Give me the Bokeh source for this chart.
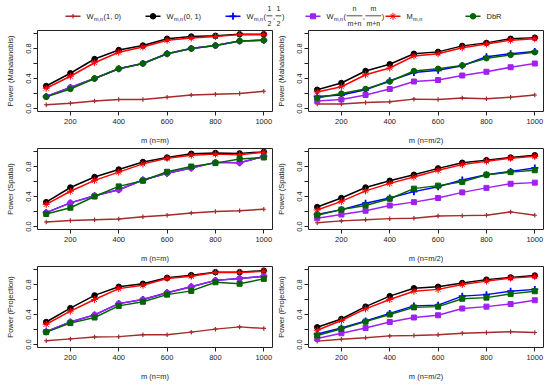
import math
from bokeh.plotting import figure
from bokeh.layouts import column, row
from bokeh.models import Range1d, FixedTicker
from bokeh.core.properties import value
from bokeh.embed import file_html
from bokeh.resources import INLINE

# ---------------- data ----------------
m_vals = [100, 200, 300, 400, 500, 600, 700, 800, 900, 1000]
x_ticks = [200, 400, 600, 800, 1000]
y_ticks = [0.0, 0.4, 0.8]
y_tick_labels = ["0.0", "0.4", "0.8"]
y_minor = [0.2, 0.6, 1.0]

row_labels = ["Power (Mahalanobis)", "Power (Spatial)", "Power (Projection)"]
col_labels = ["m (n=m)", "m (n=m/2)"]

# Mahalanobis, n=m
mah_eq_w10 = [0.05, 0.07, 0.10, 0.12, 0.12, 0.15, 0.18, 0.19, 0.20, 0.23]
mah_eq_w01 = [0.30, 0.47, 0.66, 0.78, 0.84, 0.93, 0.96, 0.97, 0.99, 0.99]
mah_eq_whalf = [0.16, 0.28, 0.40, 0.53, 0.60, 0.73, 0.80, 0.84, 0.90, 0.91]
mah_eq_wprop = [0.16, 0.28, 0.40, 0.53, 0.60, 0.73, 0.80, 0.84, 0.90, 0.91]
mah_eq_M = [0.27, 0.43, 0.61, 0.75, 0.82, 0.91, 0.94, 0.96, 0.985, 0.985]
mah_eq_dbr = [0.155, 0.26, 0.40, 0.53, 0.60, 0.73, 0.80, 0.84, 0.90, 0.91]

# Mahalanobis, n=m/2
mah_half_w10 = [0.06, 0.06, 0.08, 0.09, 0.125, 0.12, 0.14, 0.13, 0.15, 0.18]
mah_half_w01 = [0.25, 0.34, 0.50, 0.59, 0.73, 0.755, 0.835, 0.875, 0.93, 0.945]
mah_half_whalf = [0.16, 0.18, 0.25, 0.37, 0.48, 0.51, 0.57, 0.69, 0.73, 0.76]
mah_half_wprop = [0.10, 0.12, 0.18, 0.26, 0.36, 0.38, 0.44, 0.49, 0.55, 0.60]
mah_half_M = [0.22, 0.29, 0.45, 0.54, 0.70, 0.73, 0.81, 0.86, 0.91, 0.93]
mah_half_dbr = [0.14, 0.20, 0.26, 0.36, 0.50, 0.53, 0.575, 0.67, 0.715, 0.75]

# Spatial, n=m
spa_eq_w10 = [0.06, 0.08, 0.09, 0.10, 0.13, 0.15, 0.18, 0.20, 0.21, 0.23]
spa_eq_w01 = [0.325, 0.52, 0.66, 0.76, 0.86, 0.92, 0.97, 0.98, 0.975, 0.995]
spa_eq_whalf = [0.185, 0.315, 0.41, 0.49, 0.62, 0.71, 0.78, 0.855, 0.85, 0.935]
spa_eq_wprop = [0.185, 0.315, 0.41, 0.49, 0.62, 0.71, 0.78, 0.855, 0.85, 0.935]
spa_eq_M = [0.295, 0.47, 0.615, 0.725, 0.835, 0.91, 0.95, 0.965, 0.955, 0.99]
spa_eq_dbr = [0.167, 0.25, 0.40, 0.535, 0.61, 0.73, 0.80, 0.845, 0.90, 0.92]

# Spatial, n=m/2
spa_half_w10 = [0.05, 0.075, 0.09, 0.105, 0.11, 0.14, 0.145, 0.15, 0.195, 0.15]
spa_half_w01 = [0.26, 0.38, 0.52, 0.61, 0.69, 0.775, 0.85, 0.885, 0.92, 0.95]
spa_half_whalf = [0.16, 0.225, 0.31, 0.38, 0.465, 0.53, 0.62, 0.69, 0.735, 0.78]
spa_half_wprop = [0.11, 0.16, 0.21, 0.28, 0.325, 0.38, 0.455, 0.515, 0.57, 0.585]
spa_half_M = [0.22, 0.335, 0.475, 0.575, 0.66, 0.75, 0.825, 0.87, 0.91, 0.935]
spa_half_dbr = [0.15, 0.225, 0.28, 0.37, 0.505, 0.545, 0.595, 0.69, 0.725, 0.75]

# Projection, n=m
pro_eq_w10 = [0.05, 0.075, 0.10, 0.105, 0.13, 0.13, 0.165, 0.205, 0.235, 0.215]
pro_eq_w01 = [0.30, 0.485, 0.655, 0.77, 0.81, 0.89, 0.925, 0.965, 0.965, 0.985]
pro_eq_whalf = [0.17, 0.30, 0.395, 0.545, 0.60, 0.69, 0.77, 0.855, 0.88, 0.91]
pro_eq_wprop = [0.17, 0.30, 0.395, 0.545, 0.60, 0.69, 0.77, 0.855, 0.88, 0.91]
pro_eq_M = [0.27, 0.445, 0.60, 0.745, 0.79, 0.88, 0.91, 0.96, 0.96, 0.975]
pro_eq_dbr = [0.165, 0.285, 0.36, 0.515, 0.57, 0.665, 0.715, 0.83, 0.81, 0.875]

# Projection, n=m/2
pro_half_w10 = [0.045, 0.07, 0.09, 0.115, 0.12, 0.13, 0.15, 0.16, 0.17, 0.16]
pro_half_w01 = [0.23, 0.34, 0.505, 0.645, 0.75, 0.77, 0.82, 0.865, 0.895, 0.92]
pro_half_whalf = [0.14, 0.22, 0.315, 0.415, 0.515, 0.525, 0.645, 0.665, 0.71, 0.735]
pro_half_wprop = [0.08, 0.15, 0.22, 0.30, 0.36, 0.39, 0.48, 0.505, 0.54, 0.59]
pro_half_M = [0.19, 0.32, 0.475, 0.60, 0.71, 0.735, 0.80, 0.845, 0.885, 0.905]
pro_half_dbr = [0.12, 0.21, 0.305, 0.40, 0.495, 0.505, 0.61, 0.625, 0.675, 0.71]

panels = [
    [mah_eq_w10, mah_eq_w01, mah_eq_whalf, mah_eq_wprop, mah_eq_M, mah_eq_dbr],
    [mah_half_w10, mah_half_w01, mah_half_whalf, mah_half_wprop, mah_half_M, mah_half_dbr],
    [spa_eq_w10, spa_eq_w01, spa_eq_whalf, spa_eq_wprop, spa_eq_M, spa_eq_dbr],
    [spa_half_w10, spa_half_w01, spa_half_whalf, spa_half_wprop, spa_half_M, spa_half_dbr],
    [pro_eq_w10, pro_eq_w01, pro_eq_whalf, pro_eq_wprop, pro_eq_M, pro_eq_dbr],
    [pro_half_w10, pro_half_w01, pro_half_whalf, pro_half_wprop, pro_half_M, pro_half_dbr],
]

# ---------------- styles ----------------
FONT = "Liberation Sans"
TXT = "#222222"
COLORS = ["#A52A2A", "#000000", "#0000FF", "#A020F0", "#FF0000", "#006400"]
LW = 1.5


def marker_style(k, row_i, left):
    if k == 0:
        return dict(marker="cross", size=4.5, line_width=1.2)
    if k == 1:
        return dict(marker="circle", size=5.5, line_width=1)
    if k == 2:
        return dict(marker="cross", size=7, line_width=1.8)
    if k == 3:
        return dict(marker="circle" if left else "square", size=5.5 if left else 5, line_width=1)
    if k == 4:
        return dict(marker="asterisk", size=7, line_width=1)
    return dict(marker="circle" if row_i == 0 else "square", size=5.5 if row_i == 0 else 5, line_width=1)


def make_panel(idx):
    row_i, col_i = divmod(idx, 2)
    left = col_i == 0
    heights = [118, 118, 120]
    bottoms = [36, 36, 38]
    p = figure(
        width=273 if left else 277,
        height=heights[row_i],
        x_range=Range1d(64, 1036), y_range=Range1d(-0.04, 1.04),
        output_backend="svg", toolbar_location=None,
        min_border_left=37 if left else 35, min_border_right=1 if left else 7,
        min_border_top=1, min_border_bottom=bottoms[row_i],
    )
    p.grid.visible = False
    p.outline_line_color = TXT
    p.outline_line_width = 1
    p.background_fill_color = "white"
    p.border_fill_color = "white"

    for ax in (p.xaxis[0], p.yaxis[0]):
        ax.axis_line_color = None
        ax.major_tick_in = 0
        ax.major_tick_out = 4
        ax.minor_tick_in = 0
        ax.minor_tick_out = 4
        ax.major_tick_line_color = TXT
        ax.minor_tick_line_color = TXT
        ax.major_label_text_font = FONT
        ax.major_label_text_font_size = "7.5px"
        ax.major_label_text_color = TXT
        ax.axis_label_text_font = FONT
        ax.axis_label_text_font_size = "7.5px"
        ax.axis_label_text_font_style = "normal"
        ax.axis_label_text_color = TXT
        ax.major_label_standoff = 3

    p.xaxis.ticker = FixedTicker(ticks=x_ticks, minor_ticks=[])
    p.xaxis.axis_label = col_labels[col_i]
    p.xaxis.axis_label_standoff = 9

    p.yaxis.ticker = FixedTicker(ticks=y_ticks, minor_ticks=y_minor)
    p.yaxis.major_label_overrides = {t: lab for t, lab in zip(y_ticks, y_tick_labels)}
    p.yaxis.major_label_orientation = "vertical"
    p.yaxis.axis_label = row_labels[row_i]
    p.yaxis.axis_label_standoff = 8

    for k, ys in enumerate(panels[idx]):
        c = COLORS[k]
        p.line(m_vals, ys, line_color=c, line_width=LW)
        st = marker_style(k, row_i, left)
        p.scatter(m_vals, ys, marker=st["marker"], size=st["size"],
                  line_color=c, fill_color=c, line_width=st["line_width"])
    return p


# ---------------- legend strip ----------------
HW = {'W': 944, 'm': 833, 'n': 556, ',': 278, '(': 333, ')': 333, '0': 556,
      '1': 556, '2': 556, ' ': 278, '+': 584, 'M': 833, 'D': 722, 'b': 556, 'R': 722}


def tw(s, fs):
    return sum(HW.get(ch, 556) for ch in s) / 1000.0 * fs


LEG_W, LEG_H = 550, 29
leg = figure(width=LEG_W, height=LEG_H, x_range=Range1d(0, LEG_W), y_range=Range1d(0, LEG_H),
             output_backend="svg", toolbar_location=None, min_border=0,
             x_axis_location=None, y_axis_location=None)
leg.grid.visible = False
leg.outline_line_color = None
leg.background_fill_color = "white"

legend_tokens = [
    [("t", "W"), ("s", "m,n"), ("t", "(1, 0)")],
    [("t", "W"), ("s", "m,n"), ("t", "(0, 1)")],
    [("t", "W"), ("s", "m,n"), ("t", "("), ("f", "1", "2"), ("t", ","), ("f", "1", "2"), ("t", ")")],
    [("t", "W"), ("s", "m,n"), ("t", "("), ("f", "n", "m+n"), ("t", ","), ("f", "m", "m+n"), ("t", ")")],
    [("t", "M"), ("s", "m,n")],
    [("t", "DbR")],
]
legend_markers = [("cross", 4.5, 1.2), ("circle", 5.5, 1), ("cross", 7, 1.8),
                  ("square", 5, 1), ("asterisk", 7, 1), ("circle", 5.5, 1)]

FS, FS_SUB, FS_FRAC = 7.5, 5.5, 7.0
yc = 13.2
tx, ty, tt = [], [], []
sx, sy, st_ = [], [], []
fx, fy, ftxt = [], [], []
bx0, bx1, by = [], [], []

for k, toks in enumerate(legend_tokens):
    x0 = 65 + 80 * k
    c = COLORS[k]
    leg.segment(x0=[x0], y0=[yc], x1=[x0 + 15], y1=[yc], line_color=c, line_width=LW)
    mk, sz, lw = legend_markers[k]
    leg.scatter([x0 + 7.5], [yc], marker=mk, size=sz, line_color=c, fill_color=c, line_width=lw)
    x = 86 + 80 * k
    for tok in toks:
        if tok[0] == "t":
            tx.append(x); ty.append(yc); tt.append(tok[1])
            x += tw(tok[1], FS)
        elif tok[0] == "s":
            sx.append(x + 0.3); sy.append(yc - 2.4); st_.append(tok[1])
            x += tw(tok[1], FS_SUB) + 0.8
        else:
            wnum, wden = tw(tok[1], FS_FRAC), tw(tok[2], FS_FRAC)
            wmax = max(wnum, wden) + 2
            cx = x + wmax / 2 + 0.5
            fx += [cx, cx]; fy += [21.5, 6.4]; ftxt += [tok[1], tok[2]]
            bx0.append(x + 0.5); bx1.append(x + 0.5 + wmax); by.append(yc + 0.5)
            x += wmax + 1

leg.text(x=tx, y=ty, text=tt, text_font=value(FONT), text_font_size="7.5px",
         text_baseline="middle", text_align="left", text_color=TXT)
leg.text(x=sx, y=sy, text=st_, text_font=value(FONT), text_font_size="5.5px",
         text_baseline="middle", text_align="left", text_color=TXT)
leg.text(x=fx, y=fy, text=ftxt, text_font=value(FONT), text_font_size="7px",
         text_baseline="middle", text_align="center", text_color=TXT)
leg.segment(x0=bx0, y0=by, x1=bx1, y1=by, line_color=TXT, line_width=0.8)

figs = [make_panel(i) for i in range(6)]
layout = column(leg, row(figs[0], figs[1]), row(figs[2], figs[3]), row(figs[4], figs[5]))

open("out.html", "w").write(file_html(layout, INLINE))
